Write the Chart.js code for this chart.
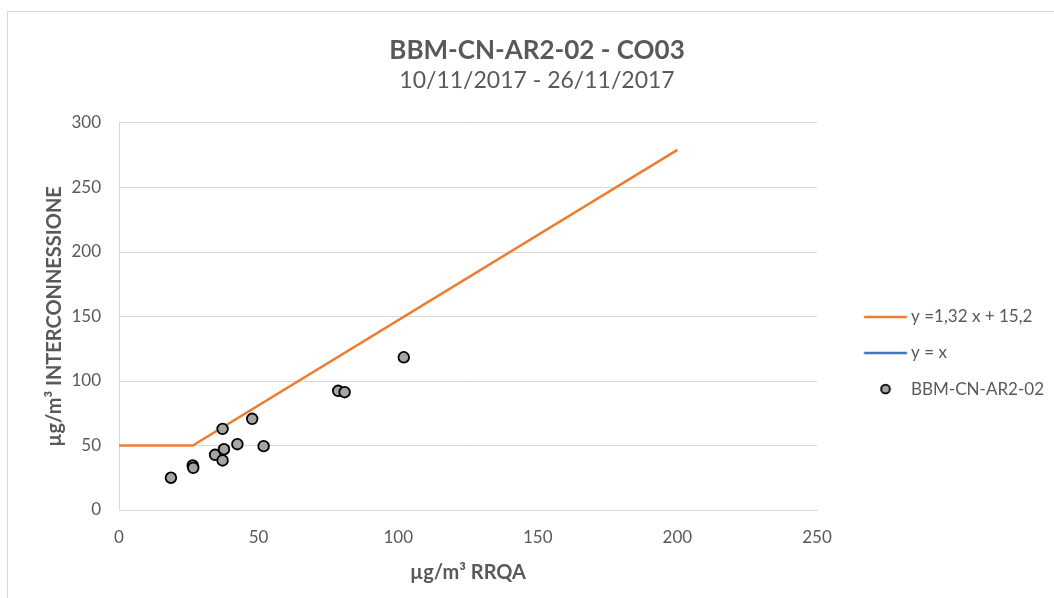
<!DOCTYPE html>
<html>
<head>
<meta charset="utf-8">
<script src="https://cdn.jsdelivr.net/npm/chart.js@4.4.1/dist/chart.umd.min.js"></script>
<style>
  body { margin: 0; background: #fff; }
  #wrap { position: absolute; left: 7px; top: 11px; width: 1047px; height: 587px;
          border-left: 1px solid #d9d9d9; border-top: 1px solid #d9d9d9; }
  canvas { display: block; }
</style>
</head>
<body>
<div id="wrap"><canvas id="grafico" width="1046" height="586"></canvas></div>
<script>
//---------------------- Dati -----------------------//
const titolo = 'BBM-CN-AR2-02 - CO03';
const periodo = '10/11/2017 - 26/11/2017';
const titoloX = 'µg/m³ RRQA';
const titoloY = 'µg/m³ INTERCONNESSIONE';

// misure (x = RRQA, y = interconnessione)
const rrqa = [18.6, 26.4, 26.6, 34.4, 37.6, 37.1, 37.1, 42.4, 47.7, 51.8, 78.5, 80.8, 102.0];
const interconnessione = [25.0, 34.5, 32.7, 42.8, 47.1, 38.4, 62.9, 51.0, 70.7, 49.5, 92.4, 91.3, 118.4];

// retta limite y = 1,32 x + 15,2 (con soglia a 50)
const rettaX = [0, 26.4, 200];
const rettaY = [50, 50, 279.2];

// y = x (nessun punto visibile)
const bisettriceX = [];
const bisettriceY = [];

const legendaTesti = ['y =1,32 x + 15,2', 'y = x', 'BBM-CN-AR2-02'];
const coloreRetta = '#ED7D31';
const coloreBisettrice = '#4472C4';
const grigioTesto = '#595959';
const grigioGriglia = '#d9d9d9';

//---------------------- Funzioni -----------------------//
function punti(xs, ys) {
    return xs.map((x, i) => ({ x: x, y: ys[i] }));
}

Chart.defaults.font.family = 'Lato';

// legenda: font scelto per avere la stessa larghezza del testo originale
const misura = document.createElement('canvas').getContext('2d');
misura.font = '17px Lato';
const fLeg = Math.min(18, 17 * 133 / misura.measureText(legendaTesti[2]).width);
misura.font = fLeg + 'px Lato';
const tw = Math.max(...legendaTesti.map(t => misura.measureText(t).width));

const padLeg = 19;
const destraArea = 809;              // bordo destro dell'area del grafico
const larghLeg = 1046 - destraArea;  // larghezza della legenda
const boxW = larghLeg - padLeg - 10 - fLeg / 2 - tw;
const centroSimbolo = destraArea + padLeg + boxW / 2;

function simbolo(disegna) {
    const c = document.createElement('canvas');
    const semi = Math.ceil(Math.max(Math.abs(856 - centroSimbolo), Math.abs(899 - centroSimbolo))) + 2;
    c.width = semi * 2; c.height = 14;
    const g = c.getContext('2d');
    disegna(g, semi - centroSimbolo);
    return c;
}

function lineaLegenda(colore) {
    return simbolo((g, dx) => {
        g.fillStyle = colore;
        g.fillRect(856 + dx, 5.75, 43, 2.5);
    });
}

function cerchioLegenda() {
    return simbolo((g, dx) => {
        g.beginPath();
        g.arc(877.5 + dx, 7, 4.4, 0, Math.PI * 2);
        g.fillStyle = '#a5a5a5';
        g.fill();
        g.lineWidth = 1.8;
        g.strokeStyle = '#000';
        g.stroke();
    });
}

const simboli = [lineaLegenda(coloreRetta), lineaLegenda(coloreBisettrice), cerchioLegenda()];

new Chart(document.getElementById('grafico'), {
    type: 'scatter',
    data: {
        datasets: [
            {
                label: legendaTesti[2],
                data: punti(rrqa, interconnessione),
                backgroundColor: '#a5a5a5',
                borderColor: '#000',
                borderWidth: 1.8,
                pointRadius: 5.3
            },
            {
                label: legendaTesti[0],
                data: punti(rettaX, rettaY),
                showLine: true,
                borderColor: coloreRetta,
                backgroundColor: coloreRetta,
                borderWidth: 2.5,
                pointRadius: 0,
                tension: 0
            },
            {
                label: legendaTesti[1],
                data: punti(bisettriceX, bisettriceY),
                showLine: true,
                borderColor: coloreBisettrice,
                backgroundColor: coloreBisettrice,
                borderWidth: 2.5,
                pointRadius: 0
            }
        ]
    },
    options: {
        responsive: false,
        devicePixelRatio: 1,
        animation: false,
        events: [],
        layout: { padding: { left: 12, right: 0, top: 0, bottom: 0 } },
        scales: {
            x: {
                type: 'linear',
                min: 0, max: 250,
                ticks: { stepSize: 50, color: grigioTesto, font: { size: 17 }, padding: 17.6, maxRotation: 0 },
                grid: { display: false, drawTicks: false },
                border: { display: true, color: grigioGriglia },
                title: { display: true, text: titoloX, color: grigioTesto,
                         font: { size: 20, weight: 'bold' }, padding: { top: 0, bottom: 13 } },
                afterFit: (s) => { s.height = 88; }
            },
            y: {
                type: 'linear',
                min: 0, max: 300,
                ticks: { stepSize: 50, color: grigioTesto, font: { size: 17 }, padding: 18 },
                grid: { color: grigioGriglia, drawTicks: false },
                border: { display: true, color: grigioGriglia },
                title: { display: true, text: titoloY, color: grigioTesto,
                         font: { size: 20, weight: 'bold' }, padding: { top: 23, bottom: 0 } },
                afterFit: (s) => { s.width = 99; }
            }
        },
        plugins: {
            title: {
                display: true,
                text: titolo,
                color: grigioTesto,
                font: { size: 26, weight: 'bold' },
                padding: { top: 23.4, bottom: 0 }
            },
            subtitle: {
                display: true,
                text: periodo,
                color: grigioTesto,
                font: { size: 23, weight: 'normal' },
                padding: { top: 0.4, bottom: 28.4 }
            },
            legend: {
                position: 'right',
                title: { display: true, text: ' ', font: { size: 10, lineHeight: 1 }, padding: { top: 86, bottom: 0 } },
                labels: {
                    usePointStyle: true,
                    pointStyleWidth: boxW,
                    padding: padLeg,
                    color: grigioTesto,
                    font: { size: fLeg },
                    generateLabels: () => [1, 2, 0].map((idx, k) => ({
                        text: legendaTesti[k],
                        pointStyle: simboli[k],
                        datasetIndex: idx,
                        hidden: false,
                        fillStyle: 'transparent',
                        strokeStyle: 'transparent',
                        lineWidth: 0,
                        fontColor: grigioTesto
                    }))
                }
            },
            tooltip: { enabled: false }
        }
    }
});
</script>
</body>
</html>
